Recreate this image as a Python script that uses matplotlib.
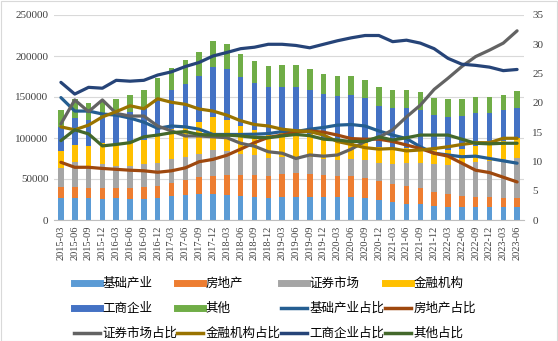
import matplotlib.pyplot as plt
from matplotlib.lines import Line2D
from matplotlib.patches import Rectangle
import numpy as np

# 按季度统计的各投向规模（左轴）及占比（右轴，%）
quarters = ['2015-03', '2015-06', '2015-09', '2015-12', '2016-03', '2016-06', '2016-09', '2016-12',
            '2017-03', '2017-06', '2017-09', '2017-12', '2018-03', '2018-06', '2018-09', '2018-12',
            '2019-03', '2019-06', '2019-09', '2019-12', '2020-03', '2020-06', '2020-09', '2020-12',
            '2021-03', '2021-06', '2021-09', '2021-12', '2022-03', '2022-06', '2022-09', '2022-12',
            '2023-03', '2023-06']

infra = [27000, 27000, 27000, 25500, 27000, 25500, 25500, 27000, 29000, 30000, 31500, 31500,
         30000, 29000, 27500, 26500, 27500, 27500, 27500, 27500, 27500, 27500, 26500, 24000,
         22500, 20000, 19500, 16500, 16000, 16000, 16000, 15500, 15400, 15400]
realty = [13000, 13000, 12500, 13500, 12000, 13500, 14500, 14500, 16000, 19000, 20500, 22500,
          24500, 25500, 27000, 27500, 28500, 29500, 28500, 27000, 26500, 26500, 24500, 23000,
          21500, 21500, 19500, 17500, 16000, 13500, 11500, 12500, 11600, 11000]
securities = [23500, 30500, 26000, 29000, 27000, 27000, 28000, 27500, 29000, 28000, 29000, 31000,
              29500, 26000, 24500, 21500, 21000, 20000, 21000, 19500, 19000, 20000, 22000, 22000,
              24000, 27500, 30000, 34000, 35500, 38500, 43500, 44000, 48000, 49600]
financial = [20500, 21500, 24500, 26500, 27000, 29000, 30000, 36000, 37000, 38000, 39000, 41000,
             38500, 34500, 31000, 30500, 29000, 29000, 28000, 26000, 24000, 22500, 21000, 20000,
             20000, 18500, 18000, 17000, 18000, 19000, 19500, 19000, 21500, 23500]
industrial = [30000, 33000, 32500, 31500, 35500, 37000, 38000, 43500, 47500, 51000, 56000, 61000,
              61500, 60000, 57500, 56500, 56500, 56500, 53500, 54000, 54000, 55500, 54500, 50500,
              48500, 48500, 47500, 43500, 40500, 40000, 39500, 39500, 37500, 37500]
other = [20000, 22000, 20500, 17500, 19500, 21000, 23000, 25000, 26500, 29000, 29000, 31000,
         31000, 28000, 26500, 25500, 26500, 26500, 25500, 24000, 25000, 24000, 22500, 23000,
         22500, 23000, 22000, 20500, 21500, 21000, 19500, 19500, 18000, 20500]

infra_pct = [20.9, 18.6, 18.6, 18.1, 17.9, 17.4, 16.7, 15.65, 16.05, 15.9, 15.5, 14.6,
             14.6, 14.6, 14.65, 14.75, 15.1, 15.1, 15.5, 15.8, 16.2, 16.3, 16.05, 15.2,
             14.5, 13.9, 12.5, 11.4, 11.1, 10.8, 10.9, 10.5, 10.1, 9.7]
realty_pct = [9.85, 9.0, 9.0, 8.8, 8.65, 8.5, 8.4, 8.15, 8.4, 8.9, 9.95, 10.35,
              11.05, 12.1, 13.2, 14.1, 14.5, 15.0, 15.2, 15.0, 14.5, 13.9, 13.8, 13.8,
              13.4, 12.8, 12.2, 11.4, 10.9, 9.7, 8.5, 8.1, 7.3, 6.5]
securities_pct = [16.4, 20.5, 18.5, 20.5, 18.2, 17.75, 17.75, 16.05, 15.2, 14.35, 14.35, 14.2,
                  14.05, 13.1, 12.6, 11.65, 11.4, 10.5, 11.1, 10.9, 11.1, 12.1, 13.4, 14.1,
                  15.4, 17.6, 19.6, 22.3, 24.2, 26.2, 27.9, 29.0, 30.2, 32.3]
financial_pct = [15.9, 15.4, 16.2, 17.6, 18.5, 19.5, 19.0, 20.7, 20.1, 19.75, 18.95, 18.6,
                 17.9, 16.95, 16.3, 16.05, 15.5, 15.25, 15.1, 14.5, 13.4, 12.9, 12.35, 12.1,
                 12.2, 11.8, 11.95, 12.2, 12.5, 12.9, 13.2, 13.2, 13.95, 13.95]
industrial_pct = [23.5, 21.5, 22.65, 22.5, 23.85, 23.7, 23.85, 24.75, 25.3, 26.2, 26.9, 28.0,
                  28.6, 29.25, 29.5, 30.0, 30.0, 29.8, 29.4, 30.0, 30.6, 31.1, 31.5, 31.5,
                  30.45, 30.7, 30.2, 29.25, 27.6, 26.6, 26.4, 26.1, 25.5, 25.7]
other_pct = [13.55, 15.4, 14.7, 12.65, 12.9, 13.2, 14.2, 14.5, 14.9, 15.1, 14.6, 14.5,
             14.5, 14.35, 14.1, 14.05, 14.35, 14.6, 14.4, 13.8, 13.65, 13.4, 13.4, 14.2,
             13.65, 14.05, 14.5, 14.5, 14.5, 13.8, 13.1, 13.0, 13.1, 13.1]

bar_names = ['基础产业', '房地产', '证券市场', '金融机构', '工商企业', '其他']
bar_colors = ['#5B9BD5', '#ED7D31', '#A5A5A5', '#FFC000', '#4472C4', '#70AD47']
line_colors = ['#255E91', '#9E480E', '#636363', '#997300', '#264478', '#43682B']

plt.rcParams['font.family'] = ['Noto Sans CJK SC', 'DejaVu Sans']
num_font = {'family': 'Liberation Serif', 'size': 8}
text_color = '#404040'

W, H = 558, 341
fig = plt.figure(figsize=(W / 100, H / 100), dpi=100)
fig.patches.append(Rectangle((0.5 / W, 0.5 / H), 1 - 1.5 / W, 1 - 1.5 / H, transform=fig.transFigure,
                             fill=False, edgecolor='#D9D9D9', linewidth=0.8))

ax = fig.add_axes([54 / W, 1 - 220 / H, 470 / W, 205 / H])
x = np.arange(len(quarters))

bottom = np.zeros(len(quarters))
for vals, color, name in zip([infra, realty, securities, financial, industrial, other], bar_colors, bar_names):
    ax.bar(x, vals, width=0.4, bottom=bottom, color=color, label=name, zorder=2)
    bottom += np.array(vals)

ax.set_xlim(-0.5, len(quarters) - 0.5)
ax.set_ylim(0, 250000)
ax.set_yticks(np.arange(0, 250001, 50000))
ax.set_yticklabels([str(v) for v in range(0, 250001, 50000)], fontdict=num_font, color=text_color)
ax.set_xticks(x)
ax.set_xticklabels(quarters, rotation=90, fontdict={'family': 'Liberation Serif', 'size': 7.5}, color=text_color)
ax.yaxis.grid(True, color='#D9D9D9', linewidth=0.8, zorder=0)
ax.set_axisbelow(True)
ax.tick_params(axis='both', length=0, pad=4)
for side in ['top', 'left', 'right']:
    ax.spines[side].set_visible(False)
ax.spines['bottom'].set_color('#BFBFBF')

ax2 = ax.twinx()
for vals, color, name in zip([infra_pct, realty_pct, securities_pct, financial_pct, industrial_pct, other_pct],
                             line_colors, bar_names):
    ax2.plot(x, vals, color=color, linewidth=2.3, label=name + '占比', solid_capstyle='round')
ax2.set_ylim(0, 35)
ax2.set_yticks(np.arange(0, 36, 5))
ax2.set_yticklabels([str(v) for v in range(0, 36, 5)], fontdict=num_font, color=text_color)
ax2.tick_params(axis='y', length=0, pad=6)
for side in ['top', 'left', 'right', 'bottom']:
    ax2.spines[side].set_visible(False)

# 图例：4 列 3 行，按行排列
handles = [Line2D([], [], color=c, linewidth=5) for c in bar_colors] + \
          [Line2D([], [], color=c, linewidth=2.5) for c in line_colors]
labels = bar_names + [n + '占比' for n in bar_names]
col_x = [74, 177, 281, 385]
for j, cx in enumerate(col_x):
    idx = [j, j + 4, j + 8]
    fig.legend([handles[i] for i in idx], [labels[i] for i in idx], loc='upper left',
               bbox_to_anchor=(cx / W, 1 - 277 / H), frameon=False, fontsize=9,
               borderpad=0, borderaxespad=0, handlelength=2.1, handletextpad=0.15,
               labelspacing=0.97, labelcolor='#000000')

fig.savefig('out.png', dpi=100)
